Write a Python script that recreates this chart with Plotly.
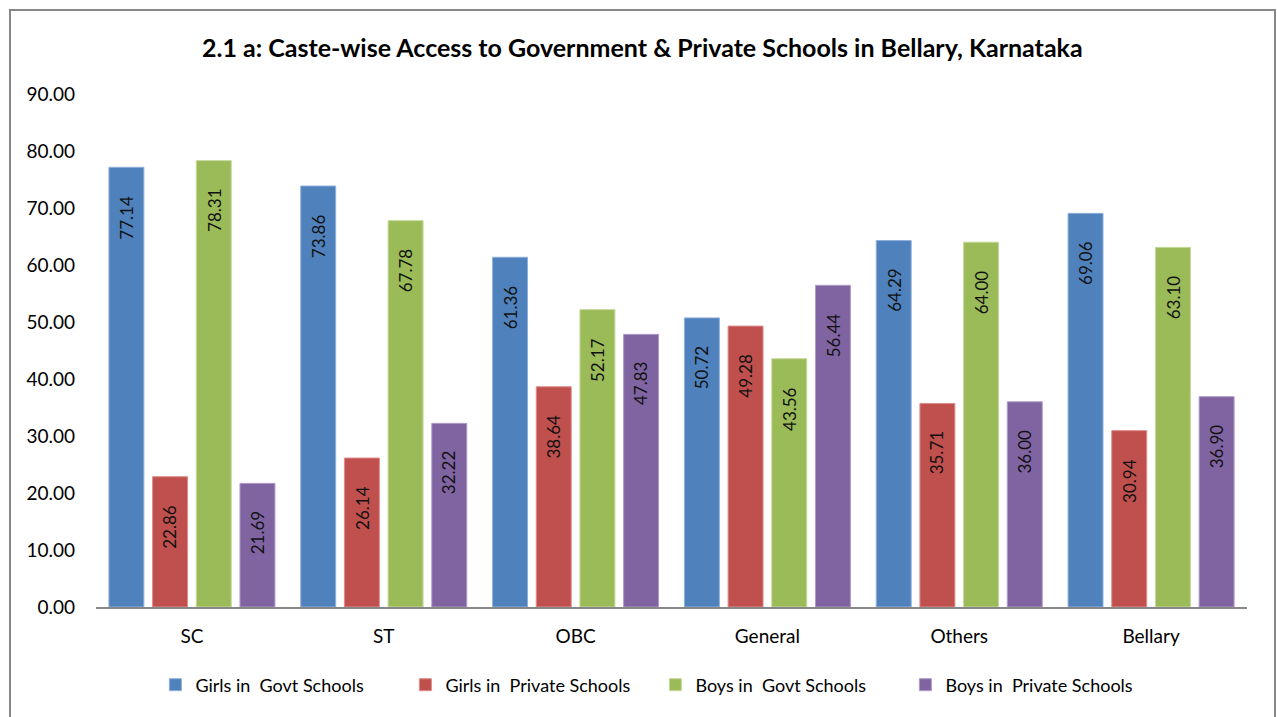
import plotly.graph_objects as go

# Caste-wise share of children by school type, Bellary district
categories = ["SC", "ST", "OBC", "General", "Others", "Bellary"]
girls_govt = [77.14, 73.86, 61.36, 50.72, 64.29, 69.06]
girls_private = [22.86, 26.14, 38.64, 49.28, 35.71, 30.94]
boys_govt = [78.31, 67.78, 52.17, 43.56, 64.00, 63.10]
boys_private = [21.69, 32.22, 47.83, 56.44, 36.00, 36.90]

series_names = [
    "Girls in  Govt Schools",
    "Girls in  Private Schools",
    "Boys in  Govt Schools",
    "Boys in  Private Schools",
]
series_values = [girls_govt, girls_private, boys_govt, boys_private]
fill_colors = ["#4F81BD", "#C0504D", "#9BBB59", "#8064A2"]
edge_colors = ["#8FB0DA", "#DE8C8A", "#C3D99A", "#AE9BC8"]

y_ticks = [0, 10, 20, 30, 40, 50, 60, 70, 80, 90]
y_tick_text = [f"{v:.2f}" for v in y_ticks]

FONT = "Lato, 'Open Sans', sans-serif"
BAR_GAP = 0.089
GROUP_GAP = 0.2

fig = go.Figure()
for name, vals, fc, ec in zip(series_names, series_values, fill_colors, edge_colors):
    fig.add_trace(go.Bar(
        x=categories, y=vals, name=name,
        marker=dict(color=fc, line=dict(color=ec, width=1)),
    ))

# Value labels: rotated, placed just inside the top of each bar
n = len(series_values)
slot = (1 - BAR_GAP) / n
annotations = []
for j, vals in enumerate(series_values):
    for i, v in enumerate(vals):
        annotations.append(dict(
            x=i + (j - (n - 1) / 2) * slot, y=v, xref="x", yref="y",
            text=f"{v:.2f}", textangle=-90, showarrow=False,
            xanchor="center", yanchor="top", yshift=-26,
            font=dict(family=FONT, size=17, color="#111111"),
        ))

annotations.append(dict(
    text="<b>2.1 a: Caste-wise Access to Government &amp; Private Schools in Bellary, Karnataka</b>",
    xref="paper", yref="paper", x=0.475, y=1 + (94 - 47) / 513,
    xanchor="center", yanchor="middle", showarrow=False,
    font=dict(family=FONT, size=25, color="#000000"),
))

# Outer chart border
shapes = [dict(
    type="rect", xref="paper", yref="paper",
    x0=-(96 - 10) / 1151, x1=1 + (1275 - 1247) / 1151,
    y0=-(110 + 20) / 513, y1=1 + (94 - 10) / 513,
    line=dict(color="#878787", width=2), fillcolor="rgba(0,0,0,0)", layer="below",
)]

fig.update_layout(
    width=1277, height=717,
    margin=dict(l=96, r=30, t=94, b=110),
    paper_bgcolor="white", plot_bgcolor="white",
    barmode="group", bargap=BAR_GAP, bargroupgap=GROUP_GAP,
    font=dict(family=FONT, size=19, color="#000000"),
    showlegend=True,
    legend=dict(
        orientation="h", x=0.486, xanchor="center", y=-(685 - 607) / 513, yanchor="middle",
        font=dict(family=FONT, size=18, color="#000000"),
        itemwidth=30, traceorder="normal", entrywidth=205,
    ),
    xaxis=dict(
        showline=True, linecolor="#878787", linewidth=2, showgrid=False,
        ticks="", tickfont=dict(family=FONT, size=19), ticklabelstandoff=11,
    ),
    yaxis=dict(
        range=[0, 90], tickvals=y_ticks, ticktext=y_tick_text,
        showgrid=False, showline=False, zeroline=False, ticks="",
        tickfont=dict(family=FONT, size=19), ticklabelstandoff=20,
    ),
    annotations=annotations,
    shapes=shapes,
)

fig.write_html("out.html")
